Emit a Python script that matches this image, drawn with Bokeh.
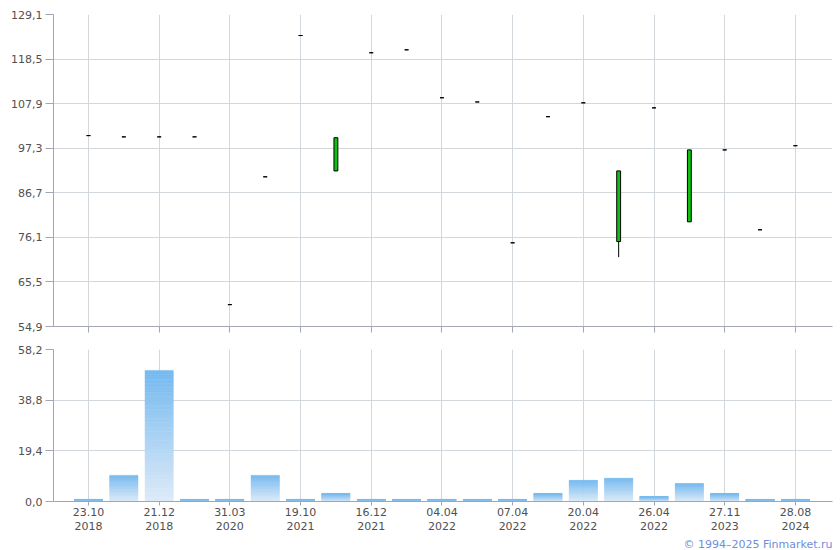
from bokeh.plotting import figure
from bokeh.layouts import column
from bokeh.models import Range1d, FixedTicker, Title
from bokeh.embed import file_html
from bokeh.resources import INLINE

# ---- data ----
tick_labels = ["23.10\n2018", "21.12\n2018", "31.03\n2020", "19.10\n2021", "16.12\n2021",
               "04.04\n2022", "07.04\n2022", "20.04\n2022", "26.04\n2022", "27.11\n2023",
               "28.08\n2024"]
opens  = [100.3, 100.0, 100.0, 100.0, 60.1, 90.5, 124.1, 91.9, 120.0, 120.7, 109.3,
          108.3, 74.8, 104.8, 108.1, 75.1, 106.9, 79.8, 96.9, 77.9, 97.9]
closes = [100.3, 100.0, 100.0, 100.0, 60.1, 90.5, 124.1, 99.8, 120.0, 120.7, 109.3,
          108.3, 74.8, 104.8, 108.1, 91.9, 106.9, 96.9, 96.9, 77.9, 97.9]
highs  = [100.3, 100.0, 100.0, 100.0, 60.1, 90.5, 124.1, 99.8, 120.0, 120.7, 109.3,
          108.3, 74.8, 104.8, 108.1, 91.9, 106.9, 96.9, 96.9, 77.9, 97.9]
lows   = [100.3, 100.0, 100.0, 100.0, 60.1, 90.5, 124.1, 91.9, 120.0, 120.7, 109.3,
          108.3, 74.8, 104.8, 108.1, 71.4, 106.9, 79.8, 96.9, 77.9, 97.9]
volumes = [0.8, 10.0, 50.2, 0.8, 0.8, 10.0, 0.8, 3.1, 0.8, 0.8, 0.8,
           0.8, 0.8, 3.1, 8.1, 8.9, 1.9, 6.9, 3.1, 0.8, 0.8]
price_ticks = [54.9, 65.5, 76.1, 86.7, 97.3, 107.9, 118.5, 129.1]
volume_ticks = [0.0, 19.4, 38.8, 58.2]

n = len(opens)
xs = list(range(n))
label_pos = xs[::2]

FONT = "DejaVu Sans"
TXT = "#505050"
GRID = "#d2d7dc"
AXIS = "#a3a6b2"

def fmt(v):
    return f"{v:.1f}".replace(".", ",")

def style(p, yticks):
    p.outline_line_color = None
    p.xaxis.ticker = FixedTicker(ticks=label_pos)
    p.xgrid.ticker = FixedTicker(ticks=label_pos)
    p.yaxis.ticker = FixedTicker(ticks=yticks)
    p.ygrid.ticker = FixedTicker(ticks=yticks)
    p.yaxis.major_label_overrides = {v: fmt(v) for v in yticks}
    for ax in (p.xaxis[0], p.yaxis[0]):
        ax.axis_line_color = AXIS
        ax.major_tick_line_color = AXIS
        ax.minor_tick_line_color = None
        ax.major_tick_in = 0
        ax.major_label_text_font = FONT
        ax.major_label_text_font_size = "11px"
        ax.major_label_text_color = TXT
    p.yaxis.major_tick_out = 8
    p.yaxis.major_label_standoff = 3
    p.xaxis.major_tick_out = 6
    p.grid.grid_line_color = GRID
    p.background_fill_color = "white"
    p.border_fill_color = "white"

x_lo, x_hi = -0.99, 21.05

p1 = figure(width=840, height=340, x_range=Range1d(x_lo, x_hi),
            y_range=Range1d(price_ticks[0], price_ticks[-1]),
            output_backend="svg", toolbar_location=None,
            min_border_left=53, min_border_right=8, min_border_top=14, min_border_bottom=14)
style(p1, price_ticks)
p1.xaxis.major_label_overrides = {pos: "" for pos in label_pos}
p1.xaxis.major_label_standoff = 0

p1.segment(x0=xs, y0=lows, x1=xs, y1=highs, line_color="black", line_width=1)
tops = [max(o, c) for o, c in zip(opens, closes)]
bots = [min(o, c) for o, c in zip(opens, closes)]
colors = ["#10c010" if c > o else "#ff3030" if c < o else "black" for o, c in zip(opens, closes)]
p1.vbar(x=xs, top=tops, bottom=bots, width=0.11, fill_color=colors,
        line_color="black", line_width=1)

p2 = figure(width=840, height=210, x_range=p1.x_range,
            y_range=Range1d(volume_ticks[0], volume_ticks[-1]),
            output_backend="svg", toolbar_location=None,
            min_border_left=53, min_border_right=8, min_border_top=9, min_border_bottom=49)
style(p2, volume_ticks)
p2.xaxis.major_label_overrides = {pos: lab for pos, lab in zip(label_pos, tick_labels)}
p2.xaxis.major_tick_out = 4
p2.xaxis.major_label_standoff = 0
p2.xaxis.major_label_text_line_height = 1.1

# gradient bars built from slices
N = 30
top_rgb = (116, 185, 239)
bot_rgb = (222, 235, 248)
ql, qr, qb, qt, qc = [], [], [], [], []
half = 0.4
for x, v in zip(xs, volumes):
    for i in range(N):
        f = (i + 0.5) / N
        r = round(bot_rgb[0] + (top_rgb[0] - bot_rgb[0]) * f)
        g = round(bot_rgb[1] + (top_rgb[1] - bot_rgb[1]) * f)
        b = round(bot_rgb[2] + (top_rgb[2] - bot_rgb[2]) * f)
        ql.append(x - half); qr.append(x + half)
        qb.append(v * i / N); qt.append(v * (i + 1) / N)
        qc.append("#%02x%02x%02x" % (r, g, b))
p2.quad(left=ql, right=qr, bottom=qb, top=qt, fill_color=qc, line_color=qc, line_width=0.5)

p2.add_layout(Title(text="© 1994–2025 Finmarket.ru", align="right", standoff=0,
                    text_font=FONT, text_font_size="11px", text_font_style="normal",
                    text_line_height=1.0, text_color="#6f8edb"), "below")

layout = column(p1, p2, spacing=0)
open("out.html", "w").write(file_html(layout, INLINE))
